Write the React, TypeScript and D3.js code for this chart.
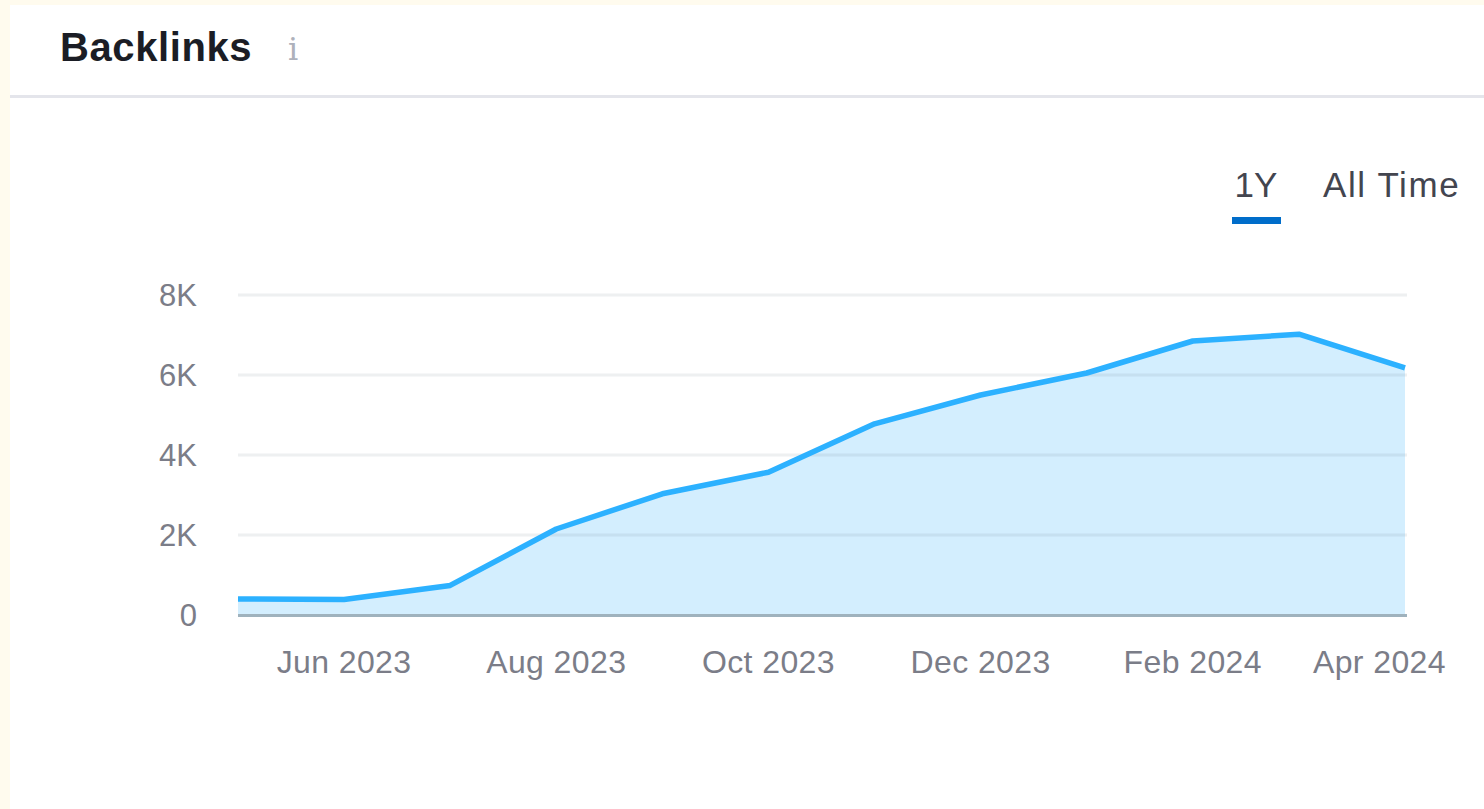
import React, { useEffect, useRef } from "react";
import * as d3 from "d3";

const months = [
  "May 2023", "Jun 2023", "Jul 2023", "Aug 2023", "Sep 2023", "Oct 2023",
  "Nov 2023", "Dec 2023", "Jan 2024", "Feb 2024", "Mar 2024", "Apr 2024",
];
const backlinks = [400, 390, 740, 2150, 3030, 3570, 4780, 5500, 6050, 6850, 7020, 6180];
const xTickLabels = ["Jun 2023", "Aug 2023", "Oct 2023", "Dec 2023", "Feb 2024", "Apr 2024"];
const yTicks = [0, 2000, 4000, 6000, 8000];
const tabs = ["1Y", "All Time"];

const W = 1484;
const H = 809;
const FONT = "'Liberation Sans', Arial, sans-serif";

export default function App() {
  const ref = useRef<SVGSVGElement>(null);

  useEffect(() => {
    const svg = d3.select(ref.current);
    svg.selectAll("*").remove();

    // background
    svg.append("rect").attr("width", W).attr("height", H).attr("fill", "#fffbee");
    svg.append("rect").attr("x", 10).attr("y", 5).attr("width", W - 10).attr("height", H - 5).attr("fill", "#ffffff");

    // header
    svg.append("text").attr("x", 60).attr("y", 61).attr("font-family", FONT)
      .attr("font-size", 40).attr("font-weight", 700).attr("letter-spacing", 0.6)
      .attr("fill", "#1b1d25").text("Backlinks");
    svg.append("text").attr("x", 288).attr("y", 60).attr("font-family", "'DejaVu Serif', serif")
      .attr("font-size", 32).attr("fill", "#aeb1bb").text("i");
    svg.append("rect").attr("x", 10).attr("y", 95).attr("width", W - 10).attr("height", 3).attr("fill", "#e4e5eb");

    // tabs
    svg.append("text").attr("x", 1256).attr("y", 197).attr("text-anchor", "middle")
      .attr("font-family", FONT).attr("font-size", 35).attr("fill", "#43454f").text(tabs[0]);
    svg.append("text").attr("x", 1323).attr("y", 197).attr("letter-spacing", 1.6)
      .attr("font-family", FONT).attr("font-size", 35).attr("fill", "#43454f").text(tabs[1]);
    svg.append("rect").attr("x", 1232).attr("y", 217).attr("width", 49).attr("height", 7).attr("fill", "#006dca");

    // scales
    const left = 238, right = 1405, top = 295, bottom = 615;
    const x = d3.scalePoint<string>().domain(months).range([left, right]);
    const y = d3.scaleLinear().domain([0, 8000]).range([bottom, top]);

    const fmt = (v: number) => (v === 0 ? "0" : `${v / 1000}K`);

    // area
    const area = d3.area<number>()
      .x((_, i) => x(months[i]) as number)
      .y0(y(0))
      .y1((d) => y(d));
    svg.append("path").datum(backlinks).attr("d", area as any)
      .attr("fill", "#d3eefe");

    // gridlines (translucent so they darken slightly over the area)
    yTicks.filter((v) => v !== 0).forEach((v) => {
      svg.append("line").attr("x1", left).attr("x2", right + 2)
        .attr("y1", y(v)).attr("y2", y(v)).attr("stroke", "#5a6e7a").attr("stroke-opacity", 0.1)
        .attr("stroke-width", 3);
    });

    // baseline
    svg.append("line").attr("x1", left).attr("x2", right + 2).attr("y1", y(0) + 0.5).attr("y2", y(0) + 0.5)
      .attr("stroke", "#9fb2bd").attr("stroke-width", 3);

    // line
    const line = d3.line<number>()
      .x((_, i) => x(months[i]) as number)
      .y((d) => y(d));
    svg.append("path").datum(backlinks).attr("d", line as any)
      .attr("fill", "none").attr("stroke", "#2cb1ff").attr("stroke-width", 5.5)
      .attr("stroke-linejoin", "round");

    // y labels
    yTicks.forEach((v) => {
      svg.append("text").attr("x", 197).attr("y", y(v) + 11).attr("text-anchor", "end")
        .attr("font-family", FONT).attr("font-size", 31).attr("fill", "#7b7d88").text(fmt(v));
    });

    // x labels
    const maxRight = 1446;
    xTickLabels.forEach((m) => {
      const t = svg.append("text").attr("x", x(m) as number).attr("y", 673).attr("text-anchor", "middle")
        .attr("font-family", FONT).attr("font-size", 32).attr("letter-spacing", 0.4)
        .attr("fill", "#7b7d88").text(m);
      const node = t.node() as SVGTextElement;
      const w = node.getComputedTextLength();
      const cx = x(m) as number;
      if (cx + w / 2 > maxRight) t.attr("x", maxRight - w / 2);
    });
  }, []);

  return (
    <>
      <style>{`body{margin:0;overflow:hidden}`}</style>
      <svg ref={ref} width={W} height={H} style={{ display: "block" }} />
    </>
  );
}
